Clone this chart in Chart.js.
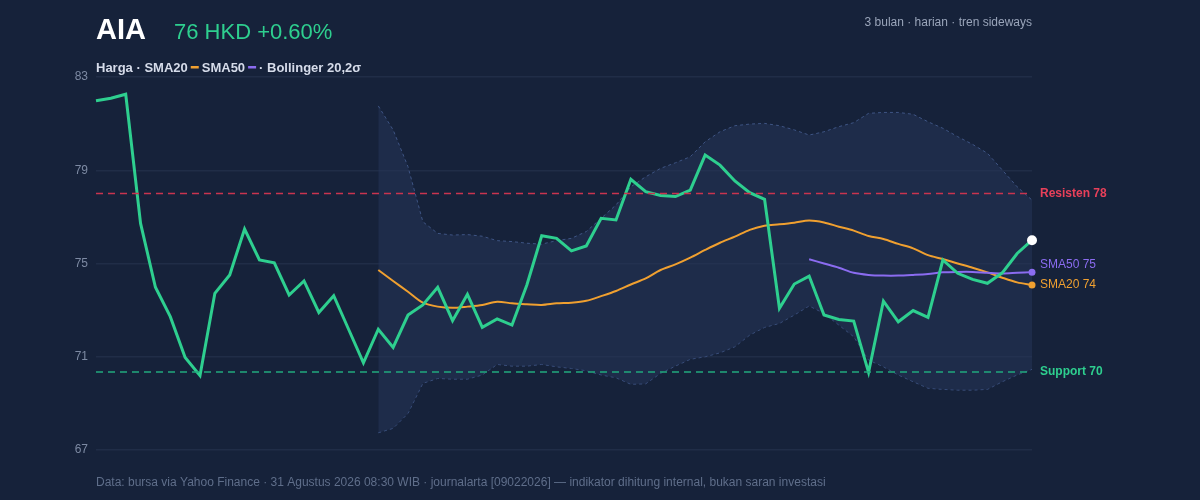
<!DOCTYPE html>
<html>
<head>
<meta charset="utf-8">
<script src="https://cdn.jsdelivr.net/npm/chart.js@4/dist/chart.umd.min.js"></script>
<style>
  html, body { margin: 0; padding: 0; background: #16223a; }
  #wrap { width: 1200px; height: 500px; position: relative; }
</style>
</head>
<body>
<div id="wrap"><canvas id="c" width="1200" height="500"></canvas></div>
<script>
// data
const price = [81.98, 82.09, 82.26, 76.72, 73.98, 72.72, 70.97, 70.19, 73.72, 74.51,
  76.48, 75.15, 75.03, 73.65, 74.25, 72.9, 73.62, 72.18, 70.74, 72.18,
  71.4, 72.79, 73.22, 73.98, 72.55, 73.68, 72.26, 72.62, 72.36, 74.08,
  76.19, 76.08, 75.54, 75.75, 76.94, 76.87, 78.61, 78.08, 77.92, 77.87,
  78.15, 79.65, 79.22, 78.54, 78.04, 77.75, 73.08, 74.12, 74.46, 72.79,
  72.6, 72.53, 70.33, 73.39, 72.5, 72.98, 72.69, 75.15, 74.58, 74.32,
  74.15, 74.6, 75.43, 76.0];
const sma20 = [74.72, 74.25, 73.79, 73.32, 73.15, 73.1, 73.15, 73.22, 73.36, 73.29,
  73.25, 73.22, 73.29, 73.32, 73.4, 73.6, 73.82, 74.1, 74.36, 74.72,
  74.96, 75.25, 75.58, 75.89, 76.15, 76.44, 76.62, 76.68, 76.75, 76.84,
  76.76, 76.58, 76.41, 76.18, 76.05, 75.84, 75.65, 75.36, 75.19, 75.0,
  74.82, 74.62, 74.39, 74.19, 74.08]; // starts at index 19
const sma50 = [75.18, 75.0, 74.82, 74.6, 74.51, 74.48, 74.48, 74.51, 74.55, 74.62,
  74.64, 74.64, 74.6, 74.57, 74.6, 74.63]; // starts at index 48
const bbUpper = [81.76, 80.73, 79.15, 76.79, 76.29, 76.22, 76.24, 76.17, 75.98, 75.94,
  75.87, 75.83, 75.98, 76.08, 76.37, 76.94, 77.51, 78.29, 78.72, 79.08,
  79.32, 79.58, 80.22, 80.65, 80.91, 80.98, 81.01, 80.91, 80.73, 80.51,
  80.65, 80.87, 81.04, 81.44, 81.48, 81.48, 81.4, 81.08, 80.8, 80.44,
  80.11, 79.73, 79.01, 78.29, 77.72];
const bbLower = [67.74, 67.93, 68.57, 69.86, 70.07, 70.04, 70.04, 70.22, 70.67, 70.6,
  70.6, 70.67, 70.57, 70.5, 70.4, 70.22, 70.1, 69.82, 69.84, 70.29,
  70.6, 70.89, 71.0, 71.17, 71.43, 71.93, 72.26, 72.43, 72.79, 73.18,
  72.86, 72.36, 71.86, 70.86, 70.57, 70.22, 69.93, 69.65, 69.6, 69.57,
  69.57, 69.6, 69.93, 70.22, 70.46];
const yTicks = [67, 71, 75, 79, 83];
const resistance = 78;
const support = 70.35;

const n = price.length;
const labels = price.map((_, i) => i);
const pad = (arr, start) => Array(start).fill(null).concat(arr);

const overlay = {
  id: "overlay",
  afterDraw(chart) {
    const { ctx, chartArea: a, scales: { y } } = chart;
    ctx.save();
    // reference lines
    ctx.setLineDash([7, 5]);
    ctx.lineWidth = 1.5;
    [[resistance, "#c9344f"], [support, "#22a97e"]].forEach(([v, col]) => {
      const py = y.getPixelForValue(v);
      ctx.strokeStyle = col;
      ctx.beginPath(); ctx.moveTo(a.left, py); ctx.lineTo(a.right, py); ctx.stroke();
    });
    ctx.setLineDash([]);
    ctx.textBaseline = "middle";
    ctx.font = "bold 12px 'Liberation Sans', Arial, sans-serif";
    ctx.fillStyle = "#e8405a";
    ctx.fillText("Resisten 78", 1040, y.getPixelForValue(resistance));
    ctx.fillStyle = "#2ecf8f";
    ctx.fillText("Support 70", 1040, y.getPixelForValue(support));
    // end markers
    const x = chart.scales.x.getPixelForValue(n - 1);
    const dot = (v, col, r) => {
      ctx.fillStyle = col;
      ctx.beginPath(); ctx.arc(x, y.getPixelForValue(v), r, 0, Math.PI * 2); ctx.fill();
    };
    dot(sma50[sma50.length - 1], "#8b6cf0", 3.5);
    dot(sma20[sma20.length - 1], "#f0a030", 3.5);
    dot(price[n - 1], "#ffffff", 5);
    ctx.font = "12px 'Liberation Sans', Arial, sans-serif";
    ctx.fillStyle = "#8b6cf0";
    ctx.fillText("SMA50 75", 1040, 265);
    ctx.fillStyle = "#f0a030";
    ctx.fillText("SMA20 74", 1040, 285);
    // header
    ctx.textBaseline = "alphabetic";
    ctx.fillStyle = "#ffffff";
    ctx.font = "bold 29px 'Liberation Sans', Arial, sans-serif";
    ctx.fillText("AIA", 96, 39);
    ctx.fillStyle = "#2ecf8f";
    ctx.font = "22px 'Liberation Sans', Arial, sans-serif";
    ctx.fillText("76 HKD +0.60%", 174, 39);
    ctx.fillStyle = "#9aa5ba";
    ctx.font = "12px 'Liberation Sans', Arial, sans-serif";
    ctx.textAlign = "right";
    ctx.fillText("3 bulan · harian · tren sideways", 1032, 26);
    ctx.textAlign = "left";
    // legend
    ctx.font = "bold 13px 'Liberation Sans', Arial, sans-serif";
    let lx = 96;
    const part = (t) => { ctx.fillStyle = "#d6dcea"; ctx.fillText(t, lx, 72); lx += ctx.measureText(t).width; };
    const swatch = (col) => { ctx.fillStyle = col; ctx.fillRect(lx + 3, 66, 8, 2.5); lx += 14; };
    part("Harga · SMA20");
    swatch("#f0a030");
    part("SMA50");
    swatch("#8b6cf0");
    part("· Bollinger 20,2σ");
    // footer
    ctx.font = "12px 'Liberation Sans', Arial, sans-serif";
    ctx.fillStyle = "#5f6e8a";
    ctx.fillText("Data: bursa via Yahoo Finance · 31 Agustus 2026 08:30 WIB · journalarta [09022026] — indikator dihitung internal, bukan saran investasi", 96, 486);
    ctx.restore();
  }
};

new Chart(document.getElementById("c"), {
  type: "line",
  data: {
    labels,
    datasets: [
      { data: pad(bbUpper, 19), borderColor: "#3f5584", borderWidth: 1, borderDash: [3, 3],
        pointRadius: 0, fill: "+1", backgroundColor: "rgba(38,54,90,0.5)", order: 5 },
      { data: pad(bbLower, 19), borderColor: "#3f5584", borderWidth: 1, borderDash: [3, 3],
        pointRadius: 0, fill: false, order: 5 },
      { data: pad(sma20, 19), borderColor: "#f0a030", borderWidth: 2, pointRadius: 0, fill: false, tension: 0.3, order: 3 },
      { data: pad(sma50, 48), borderColor: "#8b6cf0", borderWidth: 2, pointRadius: 0, fill: false, tension: 0.3, order: 2 },
      { data: price, borderColor: "#2ecf8f", borderWidth: 3, pointRadius: 0, fill: false, order: 0 }
    ]
  },
  options: {
    responsive: false,
    animation: false,
    layout: { padding: { left: 70, right: 168, top: 77, bottom: 50 } },
    plugins: { legend: { display: false }, tooltip: { enabled: false } },
    scales: {
      x: { display: false, offset: false },
      y: {
        min: 67, max: 83,
        afterFit: (s) => { s.width = 26; },
        afterBuildTicks: (s) => { s.ticks = yTicks.map((v) => ({ value: v })); },
        border: { display: false },
        grid: { color: "#202d47", lineWidth: 1.5, drawTicks: false },
        ticks: { color: "#7d8aa3", padding: 8, font: { size: 12, family: "'Liberation Sans', Arial, sans-serif" } }
      }
    }
  },
  plugins: [overlay]
});
</script>
</body>
</html>
